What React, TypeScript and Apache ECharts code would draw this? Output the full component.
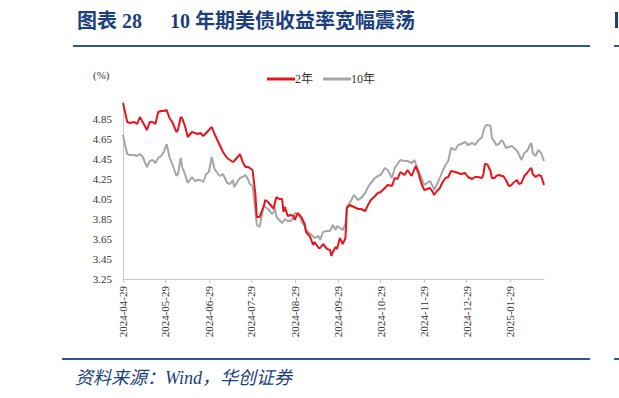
import React, { useEffect, useRef } from "react";
import * as echarts from "echarts";

const dates = [
  "2024-04-29","2024-04-30","2024-05-02","2024-05-04","2024-05-07","2024-05-09","2024-05-11","2024-05-13","2024-05-16","2024-05-18",
  "2024-05-20","2024-05-22","2024-05-24","2024-05-26","2024-05-28","2024-05-30","2024-06-01","2024-06-03","2024-06-06","2024-06-07",
  "2024-06-09","2024-06-10","2024-06-12","2024-06-14","2024-06-17","2024-06-19","2024-06-21","2024-06-23","2024-06-25","2024-06-27",
  "2024-06-29","2024-07-01","2024-07-03","2024-07-06","2024-07-07","2024-07-09","2024-07-12","2024-07-14","2024-07-16","2024-07-17",
  "2024-07-20","2024-07-21","2024-07-23","2024-07-25","2024-07-27","2024-07-28","2024-07-30","2024-08-01","2024-08-02","2024-08-04",
  "2024-08-07","2024-08-08","2024-08-10","2024-08-13","2024-08-14","2024-08-15","2024-08-16","2024-08-18","2024-08-20","2024-08-21",
  "2024-08-22","2024-08-24","2024-08-26","2024-08-28","2024-08-29","2024-08-31","2024-09-02","2024-09-03","2024-09-05","2024-09-06",
  "2024-09-09","2024-09-11","2024-09-12","2024-09-15","2024-09-16","2024-09-18","2024-09-21","2024-09-23","2024-09-24","2024-09-25",
  "2024-09-27","2024-09-28","2024-09-30","2024-10-02","2024-10-04","2024-10-05","2024-10-07","2024-10-10","2024-10-13","2024-10-15",
  "2024-10-18","2024-10-20","2024-10-22","2024-10-25","2024-10-27","2024-10-29","2024-11-01","2024-11-03","2024-11-06","2024-11-08",
  "2024-11-10","2024-11-12","2024-11-15","2024-11-17","2024-11-20","2024-11-22","2024-11-23","2024-11-25","2024-11-27","2024-11-29",
  "2024-12-01","2024-12-03","2024-12-05","2024-12-06","2024-12-08","2024-12-10","2024-12-12","2024-12-14","2024-12-16","2024-12-18",
  "2024-12-21","2024-12-23","2024-12-25","2024-12-28","2024-12-30","2025-01-02","2025-01-04","2025-01-06","2025-01-09","2025-01-10",
  "2025-01-11","2025-01-12","2025-01-13","2025-01-15","2025-01-16","2025-01-18","2025-01-19","2025-01-21","2025-01-23","2025-01-24",
  "2025-01-26","2025-01-28","2025-01-30","2025-01-31","2025-02-03","2025-02-04","2025-02-06","2025-02-08","2025-02-10","2025-02-12",
  "2025-02-13","2025-02-14","2025-02-16","2025-02-18","2025-02-20","2025-02-22"
];

const yield2Y = [
  5.01,4.95,4.82,4.81,4.82,4.80,4.87,4.82,4.74,4.82,
  4.82,4.80,4.92,4.93,4.93,4.94,4.86,4.82,4.72,4.74,
  4.87,4.86,4.78,4.67,4.72,4.71,4.70,4.71,4.68,4.71,
  4.74,4.77,4.70,4.61,4.58,4.52,4.46,4.44,4.42,4.43,
  4.48,4.50,4.42,4.37,4.37,4.36,4.34,4.10,3.87,3.87,
  3.98,4.04,4.02,3.97,3.95,4.02,4.07,4.05,4.05,3.92,
  3.97,3.88,3.89,3.88,3.84,3.91,3.88,3.86,3.80,3.72,
  3.67,3.59,3.62,3.56,3.56,3.60,3.55,3.54,3.48,3.52,
  3.57,3.55,3.66,3.60,3.66,3.96,3.99,3.97,3.95,3.95,
  3.93,3.99,4.04,4.08,4.11,4.12,4.16,4.19,4.18,4.26,
  4.25,4.32,4.29,4.34,4.28,4.35,4.38,4.30,4.20,4.14,
  4.15,4.16,4.12,4.09,4.13,4.16,4.22,4.26,4.27,4.33,
  4.32,4.31,4.30,4.31,4.27,4.25,4.27,4.27,4.26,4.30,
  4.40,4.40,4.39,4.33,4.26,4.26,4.28,4.29,4.28,4.28,
  4.24,4.18,4.19,4.21,4.24,4.20,4.21,4.28,4.31,4.35,
  4.36,4.30,4.27,4.29,4.28,4.19
];

const yield10Y = [
  4.69,4.62,4.50,4.49,4.49,4.48,4.50,4.47,4.37,4.43,
  4.44,4.41,4.46,4.48,4.52,4.60,4.47,4.40,4.28,4.30,
  4.46,4.37,4.30,4.21,4.27,4.23,4.24,4.24,4.22,4.30,
  4.32,4.47,4.35,4.29,4.28,4.30,4.21,4.20,4.24,4.17,
  4.24,4.26,4.27,4.29,4.24,4.20,4.18,3.94,3.79,3.77,
  3.99,3.97,3.95,3.90,3.92,3.95,3.87,3.84,3.81,3.83,
  3.85,3.83,3.83,3.86,3.91,3.90,3.86,3.82,3.78,3.74,
  3.70,3.68,3.66,3.68,3.64,3.72,3.73,3.73,3.76,3.79,
  3.74,3.78,3.76,3.74,3.80,3.97,4.01,4.09,4.04,4.06,
  4.11,4.17,4.21,4.26,4.28,4.29,4.36,4.34,4.26,4.36,
  4.40,4.44,4.43,4.43,4.41,4.44,4.40,4.33,4.26,4.19,
  4.21,4.23,4.18,4.14,4.20,4.26,4.33,4.39,4.43,4.56,
  4.54,4.59,4.60,4.62,4.59,4.61,4.59,4.63,4.67,4.73,
  4.77,4.79,4.79,4.78,4.66,4.62,4.59,4.60,4.64,4.62,
  4.56,4.57,4.58,4.57,4.53,4.50,4.44,4.51,4.53,4.59,
  4.61,4.51,4.48,4.54,4.51,4.43
];

const tickDates = [
  "2024-04-29","2024-05-29","2024-06-29","2024-07-29","2024-08-29",
  "2024-09-29","2024-10-29","2024-11-29","2024-12-29","2025-01-29"
];
const yTicks = [3.25, 3.45, 3.65, 3.85, 4.05, 4.25, 4.45, 4.65, 4.85];
const seriesNames = ["2年", "10年"];

const ts = (s: string) => {
  const [y, m, d] = s.split("-").map(Number);
  return new Date(y, m - 1, d).getTime();
};
const pad = (n: number) => (n < 10 ? "0" + n : "" + n);
const fmt = (v: number) => {
  const d = new Date(v);
  return d.getFullYear() + "-" + pad(d.getMonth() + 1) + "-" + pad(d.getDate());
};

const BLUE = "#1B3F7E";
const LINE_BLUE = "#2E5597";
const SERIF = "'Liberation Serif', 'Times New Roman', serif";
const CJK = "'Liberation Serif', 'Noto Sans CJK SC', serif";

export default function App() {
  const ref = useRef<HTMLDivElement>(null);
  useEffect(() => {
    if (!ref.current) return;
    const chart = echarts.init(ref.current, undefined, { renderer: "svg" });
    const tickTs = tickDates.map(ts);
    chart.setOption({
      animation: false,
      backgroundColor: "#ffffff",
      grid: { left: 123, right: 75, top: 102, bottom: 119, containLabel: false },
      legend: {
        top: 68,
        left: 262,
        itemWidth: 28,
        itemHeight: 3,
        itemGap: 10,
        icon: "rect",
        textStyle: { fontFamily: CJK, fontSize: 12, color: "#333333", padding: [0, 0, 0, -5] },
        data: seriesNames,
      },
      xAxis: {
        type: "value",
        min: ts("2024-04-29"),
        max: ts("2025-02-22"),
        splitLine: { show: false },
        axisLine: { lineStyle: { color: "#C8C8C8", width: 1 } },
        axisTick: { show: true, length: 4, lineStyle: { color: "#C8C8C8" }, customValues: tickTs },
        axisLabel: {
          customValues: tickTs,
          rotate: 90,
          margin: 7,
          fontFamily: SERIF,
          fontSize: 11,
          color: "#333333",
          formatter: (v: number) => fmt(v),
        },
      },
      yAxis: {
        type: "value",
        min: 3.25,
        max: 5.02,
        splitLine: { show: false },
        axisLine: { show: true, lineStyle: { color: "#C8C8C8", width: 1 } },
        axisTick: { show: false },
        axisLabel: {
          customValues: yTicks,
          margin: 11,
          fontFamily: SERIF,
          fontSize: 11,
          color: "#333333",
          formatter: (v: number) => v.toFixed(2),
        },
      },
      series: [
        {
          name: seriesNames[0],
          type: "line",
          showSymbol: false,
          symbol: "none",
          data: dates.map((d, i) => [ts(d), yield2Y[i]]),
          lineStyle: { color: "#E8141C", width: 2 },
          itemStyle: { color: "#E8141C" },
          z: 3,
        },
        {
          name: seriesNames[1],
          type: "line",
          showSymbol: false,
          symbol: "none",
          data: dates.map((d, i) => [ts(d), yield10Y[i]]),
          lineStyle: { color: "#A6A6A6", width: 2 },
          itemStyle: { color: "#A6A6A6" },
          z: 2,
        },
      ],
      graphic: [
        {
          type: "text",
          x: 77,
          y: 21,
          style: {
            text: "图表 28",
            fontFamily: CJK,
            fontSize: 20,
            fontWeight: "bold",
            fill: BLUE,
            verticalAlign: "middle",
          },
        },
        {
          type: "text",
          x: 170,
          y: 21,
          style: {
            text: "10 年期美债收益率宽幅震荡",
            fontFamily: CJK,
            fontSize: 20,
            fontWeight: "bold",
            fill: BLUE,
            verticalAlign: "middle",
          },
        },
        { type: "rect", shape: { x: 73, y: 45, width: 517, height: 2 }, style: { fill: LINE_BLUE } },
        { type: "rect", shape: { x: 614, y: 45, width: 5, height: 2 }, style: { fill: LINE_BLUE } },
        { type: "rect", shape: { x: 615, y: 12, width: 3, height: 16 }, style: { fill: BLUE } },
        { type: "rect", shape: { x: 62, y: 358, width: 528, height: 2 }, style: { fill: LINE_BLUE } },
        { type: "rect", shape: { x: 614, y: 358, width: 5, height: 2 }, style: { fill: LINE_BLUE } },
        {
          type: "text",
          x: 93,
          y: 75,
          style: { text: "(%)", fontFamily: SERIF, fontSize: 11, fill: "#333333", verticalAlign: "middle" },
        },
        {
          type: "text",
          x: 75,
          y: 378,
          style: {
            text: "资料来源：Wind，华创证券",
            fontFamily: CJK,
            fontSize: 18,
            fontStyle: "italic",
            fill: BLUE,
            verticalAlign: "middle",
          },
        },
      ],
    });
    return () => chart.dispose();
  }, []);
  return (
    <div
      ref={ref}
      style={{ position: "absolute", left: 0, top: 0, width: 619, height: 398 }}
    />
  );
}
